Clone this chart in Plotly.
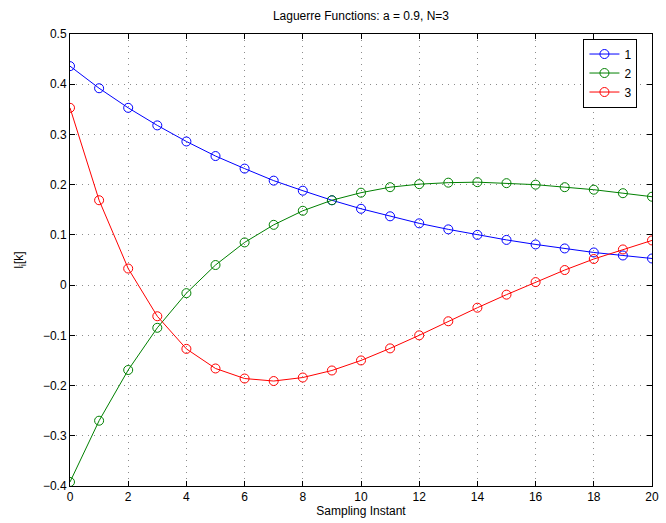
import plotly.graph_objects as go

# Sampling instants and the three discrete Laguerre functions (a = 0.9, N = 3)
k = list(range(21))
l1 = [0.436, 0.392, 0.353, 0.318, 0.286, 0.257, 0.232, 0.208, 0.188, 0.169, 0.152,
      0.137, 0.123, 0.111, 0.100, 0.090, 0.081, 0.073, 0.065, 0.059, 0.053]
l2 = [-0.392, -0.270, -0.169, -0.085, -0.016, 0.040, 0.085, 0.120, 0.148, 0.169, 0.184,
      0.195, 0.201, 0.204, 0.205, 0.203, 0.200, 0.195, 0.190, 0.183, 0.176]
l3 = [0.353, 0.169, 0.033, -0.062, -0.127, -0.166, -0.186, -0.191, -0.184, -0.170, -0.150,
      -0.126, -0.100, -0.072, -0.045, -0.019, 0.006, 0.030, 0.052, 0.071, 0.089]
names = ["1", "2", "3"]
colors = ["#0000ff", "#008000", "#ff0000"]

x_ticks = list(range(0, 21, 2))
y_ticks = [-0.4, -0.3, -0.2, -0.1, 0, 0.1, 0.2, 0.3, 0.4, 0.5]
y_labels = ["\u22120.4", "\u22120.3", "\u22120.2", "\u22120.1", "0", "0.1", "0.2", "0.3", "0.4", "0.5"]

fig = go.Figure()
for vals, name, col in zip([l1, l2, l3], names, colors):
    fig.add_trace(go.Scatter(
        x=k, y=vals, name=name, mode="lines+markers",
        line=dict(color=col, width=1),
        marker=dict(symbol="circle-open", size=9, color=col, line=dict(width=1, color=col)),
    ))

axis_common = dict(
    showline=True, linecolor="black", linewidth=1, mirror="ticks",
    ticks="inside", ticklen=5, tickcolor="black",
    showgrid=True, gridcolor="#8c8c8c", griddash="1px,5px", gridwidth=1,
    zeroline=False, tickfont=dict(size=12, color="black"), automargin=False,
)

fig.update_layout(
    width=666, height=523,
    margin=dict(l=70, r=14, t=34, b=37),
    paper_bgcolor="white", plot_bgcolor="white",
    font=dict(family="Liberation Sans, Arial, sans-serif", size=12, color="black"),
    title=dict(text="Laguerre Functions: a = 0.9, N=3", x=0.542, xanchor="center",
               y=0.969, yanchor="middle", font=dict(size=12)),
    xaxis=dict(range=[0, 20], tickvals=x_ticks,
               title=dict(text="Sampling Instant", standoff=2, font=dict(size=12)),
               **axis_common),
    yaxis=dict(range=[-0.4, 0.5], tickvals=y_ticks, ticktext=y_labels,
               title=dict(text="l<sub>i</sub>[k]", standoff=16, font=dict(size=12)),
               **axis_common),
    legend=dict(x=0.975, y=0.99, xanchor="right", yanchor="top",
                bgcolor="white", bordercolor="black", borderwidth=1,
                font=dict(size=12), itemwidth=30, tracegroupgap=0),
    showlegend=True,
)

fig.write_html("out.html")
